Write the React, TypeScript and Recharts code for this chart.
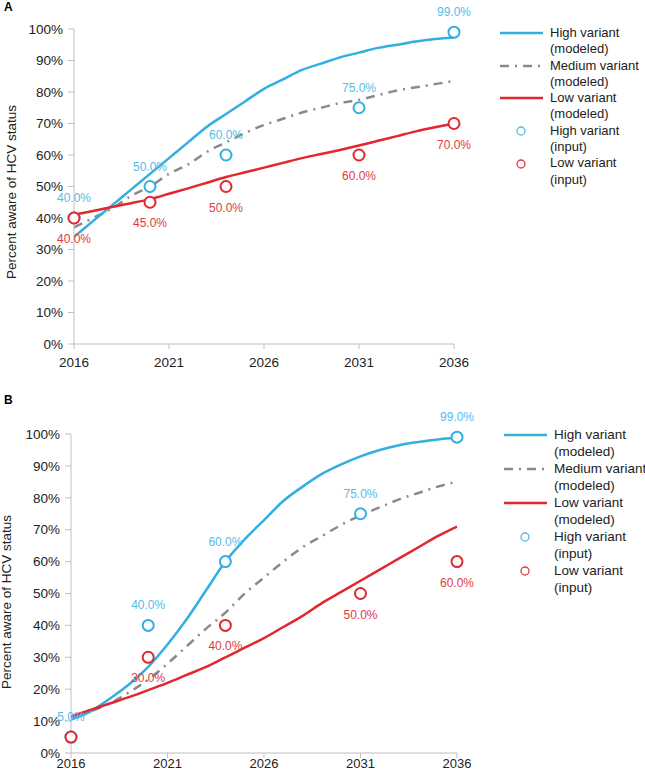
import React from 'react';
import { ComposedChart, Line, Scatter, XAxis, YAxis } from 'recharts';

// ---------- Data ----------
const years = [2016, 2017, 2018, 2019, 2020, 2021, 2022, 2023, 2024, 2025, 2026, 2027, 2028, 2029, 2030, 2031, 2032, 2033, 2034, 2035, 2036];
const xTicks = [2016, 2021, 2026, 2031, 2036];
const yTicks = [0, 10, 20, 30, 40, 50, 60, 70, 80, 90, 100];

// Panel A modeled
const highModelA = [34, 39, 44, 49, 54, 59, 64, 69, 73, 77, 81, 84, 87, 89, 91, 92.5, 94, 95, 96, 96.8, 97.3];
const medModelA = [37, 40, 43, 47, 50, 54, 57, 61, 64, 67, 69.5, 71.5, 73.5, 75, 76.5, 77.5, 79, 80.5, 81.5, 82.5, 83.5];
const lowModelA = [41, 42.2, 43.5, 44.7, 46, 47.7, 49.4, 51.2, 53, 54.5, 56, 57.5, 59, 60.3, 61.6, 63, 64.5, 66, 67.5, 68.8, 70];
// Panel A inputs
const inputYearsA = [2016, 2020, 2024, 2031, 2036];
const highInputA = [40, 50, 60, 75, 99];
const lowInputA = [40, 45, 50, 60, 70];
const highLabelsA = ['40.0%', '50.0%', '60.0%', '75.0%', '99.0%'];
const lowLabelsA = ['40.0%', '45.0%', '50.0%', '60.0%', '70.0%'];

// Panel B modeled
const highModelB = [10.5, 13, 17, 21.5, 27, 34, 42, 51, 60, 67, 73, 79, 83.5, 87.5, 90.5, 93, 95, 96.5, 97.5, 98.3, 98.8];
const medModelB = [11, 13, 15.5, 19, 23, 28, 33.5, 39, 44, 50, 55, 60, 64.5, 68, 71.5, 74.5, 77, 79.5, 81.5, 83.5, 85];
const lowModelB = [11.5, 13.5, 15.5, 17.5, 19.7, 22, 24.5, 27, 30, 33, 36, 39.5, 43, 47, 50.5, 54, 57.5, 61, 64.5, 68, 71];
// Panel B inputs
const inputYearsB = [2016, 2020, 2024, 2031, 2036];
const highInputB = [5, 40, 60, 75, 99];
const lowInputB = [5, 30, 40, 50, 60];
const highLabelsB = ['5.0%', '40.0%', '60.0%', '75.0%', '99.0%'];
const lowLabelsB = ['', '30.0%', '40.0%', '50.0%', '60.0%'];

const legendItems = [
  ['High variant', '(modeled)'],
  ['Medium variant', '(modeled)'],
  ['Low variant', '(modeled)'],
  ['High variant', '(input)'],
  ['Low variant', '(input)'],
];
const yAxisTitle = 'Percent aware of HCV status';

// ---------- Styles ----------
const BLUE = '#33aee0';
const BLUE_TXT = '#55bce8';
const RED = '#e2272d';
const RED_TXT = '#e03a40';
const GRAY = '#8a8a8a';
const AXIS = '#bfbfbf';
const FONT = '"Liberation Sans", Arial, sans-serif';

function buildModel(h: number[], m: number[], l: number[]) {
  return years.map((y, i) => ({ year: y, high: h[i], med: m[i], low: l[i] }));
}
function buildInput(xs: number[], vals: number[], labels: string[]) {
  return xs.map((x, i) => ({ year: x, value: vals[i], label: labels[i] }));
}

const makeShape = (stroke: string, txt: string, dy: number) => (props: any) => {
  const { cx, cy, payload } = props;
  return (
    <g>
      <circle cx={cx} cy={cy} r={5.5} fill="#fff" stroke={stroke} strokeWidth={2} />
      {payload.label ? (
        <text x={cx} y={cy + dy} textAnchor="middle" dominantBaseline="central" fontSize={12} fill={txt} fontFamily={FONT}>
          {payload.label}
        </text>
      ) : null}
    </g>
  );
};

function Panel(props: {
  width: number; height: number; margin: any; yWidth: number; xHeight: number; xTickMargin: number; xTickSize: number;
  model: any[]; hi: any[]; lo: any[];
}) {
  const { width, height, margin, yWidth, xHeight, xTickMargin, xTickSize, model, hi, lo } = props;
  return (
    <ComposedChart width={width} height={height} data={model} margin={margin}>
      <XAxis
        dataKey="year" type="number" domain={[2016, 2036]} ticks={xTicks}
        height={xHeight} stroke={AXIS} tickSize={5} tickMargin={xTickMargin}
        tick={{ fill: '#222', fontSize: xTickSize, fontFamily: FONT }} axisLine={{ stroke: AXIS }} tickLine={{ stroke: AXIS }}
      />
      <YAxis
        type="number" domain={[0, 100]} ticks={yTicks} width={yWidth}
        tickFormatter={(v: number) => `${v}%`} stroke={AXIS} tickSize={6} tickMargin={5}
        tick={{ fill: '#222', fontSize: 13.5, fontFamily: FONT }} axisLine={{ stroke: AXIS }} tickLine={{ stroke: AXIS }}
      />
      <Line type="monotone" dataKey="med" stroke={GRAY} strokeWidth={2.5} strokeDasharray="9 6 2 6" dot={false} isAnimationActive={false} />
      <Line type="monotone" dataKey="high" stroke={BLUE} strokeWidth={2.5} dot={false} isAnimationActive={false} />
      <Line type="monotone" dataKey="low" stroke={RED} strokeWidth={2.5} dot={false} isAnimationActive={false} />
      <Scatter data={hi} dataKey="value" shape={makeShape(BLUE, BLUE_TXT, -20)} isAnimationActive={false} />
      <Scatter data={lo} dataKey="value" shape={makeShape(RED, RED_TXT, 21)} isAnimationActive={false} />
    </ComposedChart>
  );
}

function LegendBox(props: { left: number; top: number; lineH: number; fontSize: number }) {
  const { left, top, lineH, fontSize } = props;
  const symbols = [
    <line x1={0} y1={8} x2={43} y2={8} stroke={BLUE} strokeWidth={2.5} />,
    <line x1={0} y1={8} x2={43} y2={8} stroke={GRAY} strokeWidth={2.5} strokeDasharray="9 6 2 6" />,
    <line x1={0} y1={8} x2={43} y2={8} stroke={RED} strokeWidth={2.5} />,
    <circle cx={21} cy={8} r={4} fill="#fff" stroke={BLUE_TXT} strokeWidth={1.3} />,
    <circle cx={21} cy={8} r={4} fill="#fff" stroke={RED_TXT} strokeWidth={1.3} />,
  ];
  return (
    <div style={{ position: 'absolute', left, top, fontFamily: FONT, fontSize, color: '#222', lineHeight: `${lineH}px` }}>
      {legendItems.map((it, i) => (
        <div key={i} style={{ display: 'flex', alignItems: 'flex-start' }}>
          <svg width={43} height={16} style={{ marginTop: lineH / 2 - 8, marginRight: 7, overflow: 'visible' }}>{symbols[i]}</svg>
          <div style={{ whiteSpace: 'nowrap' }}>
            <div>{it[0]}</div>
            <div>{it[1]}</div>
          </div>
        </div>
      ))}
    </div>
  );
}

function AxisTitle(props: { cx: number; cy: number }) {
  return (
    <div style={{
      position: 'absolute', left: props.cx - 100, top: props.cy - 8, width: 200, height: 16, textAlign: 'center',
      transform: 'rotate(-90deg)', fontFamily: FONT, fontSize: 13.5, color: '#222', lineHeight: '16px', whiteSpace: 'nowrap',
    }}>{yAxisTitle}</div>
  );
}

export default function App() {
  const modelA = buildModel(highModelA, medModelA, lowModelA);
  const modelB = buildModel(highModelB, medModelB, lowModelB);
  const hiA = buildInput(inputYearsA, highInputA, highLabelsA);
  const loA = buildInput(inputYearsA, lowInputA, lowLabelsA);
  const hiB = buildInput(inputYearsB, highInputB, highLabelsB);
  const loB = buildInput(inputYearsB, lowInputB, lowLabelsB);
  return (
    <div style={{ position: 'absolute', left: 0, top: 0, width: 645, height: 776, background: '#fff', overflow: 'hidden' }}>
      <div style={{ position: 'absolute', left: 4, top: 0, fontFamily: FONT, fontWeight: 'bold', fontSize: 12 }}>A</div>
      <div style={{ position: 'absolute', left: 0, top: 0 }}>
        <Panel width={645} height={390} margin={{ top: 29, right: 191, bottom: 16, left: 0 }} yWidth={74} xHeight={30}
          xTickMargin={8} xTickSize={13.5} model={modelA} hi={hiA} lo={loA} />
      </div>
      <AxisTitle cx={12} cy={192} />
      <LegendBox left={500} top={25} lineH={16.3} fontSize={13} />

      <div style={{ position: 'absolute', left: 4, top: 393, fontFamily: FONT, fontWeight: 'bold', fontSize: 12 }}>B</div>
      <div style={{ position: 'absolute', left: 0, top: 390 }}>
        <Panel width={645} height={386} margin={{ top: 44, right: 188, bottom: 0, left: 0 }} yWidth={71} xHeight={23}
          xTickMargin={1} xTickSize={13} model={modelB} hi={hiB} lo={loB} />
      </div>
      <AxisTitle cx={7} cy={602} />
      <LegendBox left={504} top={426} lineH={17} fontSize={13.5} />
    </div>
  );
}
